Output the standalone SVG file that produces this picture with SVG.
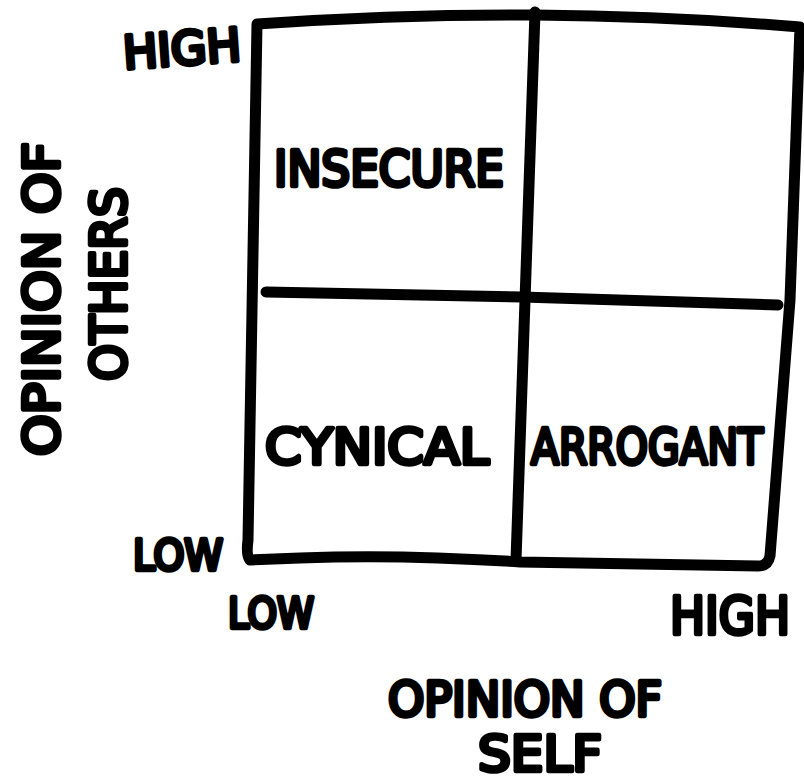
<svg xmlns="http://www.w3.org/2000/svg" width="804" height="780" viewBox="0 0 804 780">
<style>
.ln{fill:none;stroke:#000;stroke-width:11;stroke-linecap:round;stroke-linejoin:round}
.t{font-family:"DejaVu Sans",sans-serif;font-weight:normal;fill:#000;stroke:#000;stroke-width:4.5;stroke-linejoin:round;stroke-linecap:round}
</style>
<rect width="804" height="780" fill="#fff"/>
<g id="connectors">
<path class="ln" d="M257,24 Q400,14 535,15 T800,27 L790,300 L770,556 Q768,566 758,566 L520,562 Q400,554 300,558 L250,560 Q246,556 248,540 L257,24 Z"/>
<path class="ln" d="M535,12 L516,560"/>
<path class="ln" d="M266,292 L522,297 L778,305"/>
</g>
<g id="q-insecure"><text class="t" x="274" y="186" font-size="50" textLength="230" lengthAdjust="spacingAndGlyphs">INSECURE</text></g>
<g id="q-cynical"><text class="t" x="265" y="464" font-size="50" textLength="224" lengthAdjust="spacingAndGlyphs">CYNICAL</text></g>
<g id="q-arrogant"><text class="t" x="531" y="464" font-size="50" textLength="232" lengthAdjust="spacingAndGlyphs">ARROGANT</text></g>
<g id="y-high"><text class="t" x="123" y="65" font-size="46" textLength="118" lengthAdjust="spacingAndGlyphs" transform="rotate(-4 180 50)">HIGH</text></g>
<g id="y-low"><text class="t" x="133" y="570" font-size="42" textLength="90" lengthAdjust="spacingAndGlyphs">LOW</text></g>
<g id="x-low"><text class="t" x="228" y="628" font-size="42" textLength="86" lengthAdjust="spacingAndGlyphs">LOW</text></g>
<g id="x-high"><text class="t" x="670" y="634" font-size="52" textLength="120" lengthAdjust="spacingAndGlyphs">HIGH</text></g>
<g id="x-title"><text class="t" x="388" y="716" font-size="48" textLength="274" lengthAdjust="spacingAndGlyphs">OPINION OF</text>
<text class="t" x="478" y="771" font-size="50" textLength="124" lengthAdjust="spacingAndGlyphs">SELF</text></g>
<g id="y-title"><text class="t" font-size="50" textLength="314" lengthAdjust="spacingAndGlyphs" transform="translate(59,456) rotate(-90)">OPINION OF</text>
<text class="t" font-size="50" textLength="194" lengthAdjust="spacingAndGlyphs" transform="translate(126,381) rotate(-90)">OTHERS</text></g>
</svg>
